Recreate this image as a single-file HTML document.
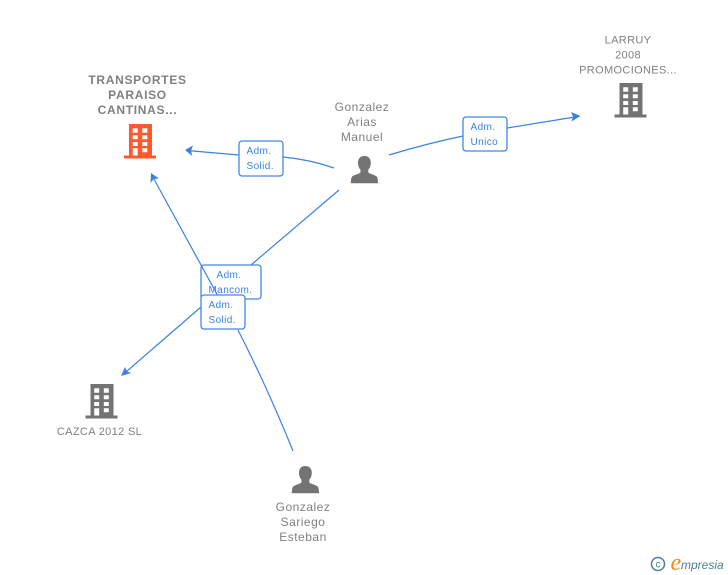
<!DOCTYPE html>
<html><head><meta charset="utf-8"><style>
html,body{margin:0;padding:0;background:#fff;width:728px;height:575px;overflow:hidden}
svg{display:block}
text{font-family:"Liberation Sans",Arial,sans-serif}
.n{font-size:12px;fill:#808080;text-anchor:middle;letter-spacing:.5px}
.c{font-size:11px;letter-spacing:.35px}
.b{font-weight:bold;font-size:12px;letter-spacing:.7px}
.l{font-size:10px;fill:#3b82e0;letter-spacing:.4px}
.e{fill:none;stroke:#3b82e0;stroke-width:1.2}
.r{fill:#fff;stroke:#4388e4;stroke-width:1.3}
.a{fill:#3b82e0}
</style></head><body>
<svg width="728" height="575" viewBox="0 0 728 575" xmlns="http://www.w3.org/2000/svg">
<defs>
<g id="bld">
<path fill-rule="evenodd" d="M5 0H28V31.500H32V34.500H0V31.500H5ZM8.700 4.300V8.700H13.700V4.300ZM18.300 4.300V8.700H23.300V4.300ZM8.700 11.300V15.300H13.700V11.300ZM18.300 11.300V15.300H23.300V11.300ZM8.700 18V22H13.700V18ZM18.300 18V22H23.300V18ZM8.700 24.300V31.500H13.700V24.300ZM18.300 24.300V28.300H23.300V24.300Z"/>
</g>
<g id="per">
<path d="M13.700 0C9.300 0 7.300 3 7.300 6.800C7.300 9.800 8.300 12.300 9.800 13.800V16.300C9 18 3 18.800 1.200 20.800C.4 22 .2 25 0 27.300H27.400C27.200 25 27 22 26.200 20.800C24.400 18.800 18.400 18 17.600 16.300V13.800C19.100 12.300 20.100 9.800 20.100 6.800C20.100 3 18.100 0 13.700 0Z"/>
</g>
</defs>

<path class="e" d="M334 168Q310 159.500 283 157"/>
<path class="e" d="M239 155L187 150.500"/>
<path class="a" d="M185 150L193 145.500L191 150.700L192.300 156Z"/>

<path class="e" d="M389 155Q427 143.500 463 136"/>
<path class="e" d="M507 128L578 116.500"/>
<path class="a" d="M580.500 116L571.500 121.500L573 116.500L571 112Z"/>

<path class="e" d="M339 190L251 265"/>
<path class="e" d="M201 307L123 374.500"/>
<path class="a" d="M121 376L125 367L127 371.500L131.500 373Z"/>

<rect class="r" x="201" y="265" width="60" height="34" rx="3"/>
<text class="l" x="216.500" y="278">Adm.</text>
<text class="l" x="208.500" y="293">Mancom.</text>

<path class="e" d="M293 451Q268 389 238 330"/>
<path class="e" d="M218 296L152 175.500"/>
<path class="a" d="M151 173L159 178.500L153.700 179L150.500 183Z"/>

<rect class="r" x="239" y="141" width="44" height="35" rx="3"/>
<text class="l" x="246.500" y="154">Adm.</text>
<text class="l" x="246.500" y="169">Solid.</text>

<rect class="r" x="463" y="117" width="44" height="34" rx="3"/>
<text class="l" x="470.500" y="130">Adm.</text>
<text class="l" x="470.500" y="145">Unico</text>

<rect class="r" x="201" y="295" width="44" height="34" rx="3"/>
<text class="l" x="208.500" y="308">Adm.</text>
<text class="l" x="208.500" y="323">Solid.</text>

<use href="#bld" x="124" y="124" fill="#ff5a2c"/>
<use href="#bld" x="614.500" y="83" fill="#737373"/>
<use href="#bld" x="85.500" y="384" fill="#737373"/>
<use href="#per" x="350.700" y="156" fill="#737373"/>
<use href="#per" x="291.700" y="466" fill="#737373"/>

<text class="n b" x="137.500" y="84">TRANSPORTES</text>
<text class="n b" x="137.500" y="99">PARAISO</text>
<text class="n b" x="137.500" y="114">CANTINAS...</text>

<text class="n" x="362" y="111">Gonzalez</text>
<text class="n" x="362" y="126">Arias</text>
<text class="n" x="362" y="141">Manuel</text>

<text class="n c" x="628" y="43.500">LARRUY</text>
<text class="n c" x="628" y="58.500">2008</text>
<text class="n c" x="628" y="73.500">PROMOCIONES...</text>

<text class="n c" x="99.500" y="435">CAZCA 2012 SL</text>

<text class="n" x="303" y="511">Gonzalez</text>
<text class="n" x="303" y="526">Sariego</text>
<text class="n" x="303" y="541">Esteban</text>

<circle cx="658" cy="564" r="6.500" fill="none" stroke="#4a7f96" stroke-width="1.500"/>
<text x="658" y="567.500" font-size="10" text-anchor="middle" fill="#4a7f96">c</text>
<text x="670.500" y="570" font-size="24" font-style="italic" fill="#f08a1d" style="font-family:'Liberation Serif',serif">e</text>
<text x="681" y="569" font-size="12" font-style="italic" fill="#4a7f96">mpresia</text>
</svg>
</body></html>
